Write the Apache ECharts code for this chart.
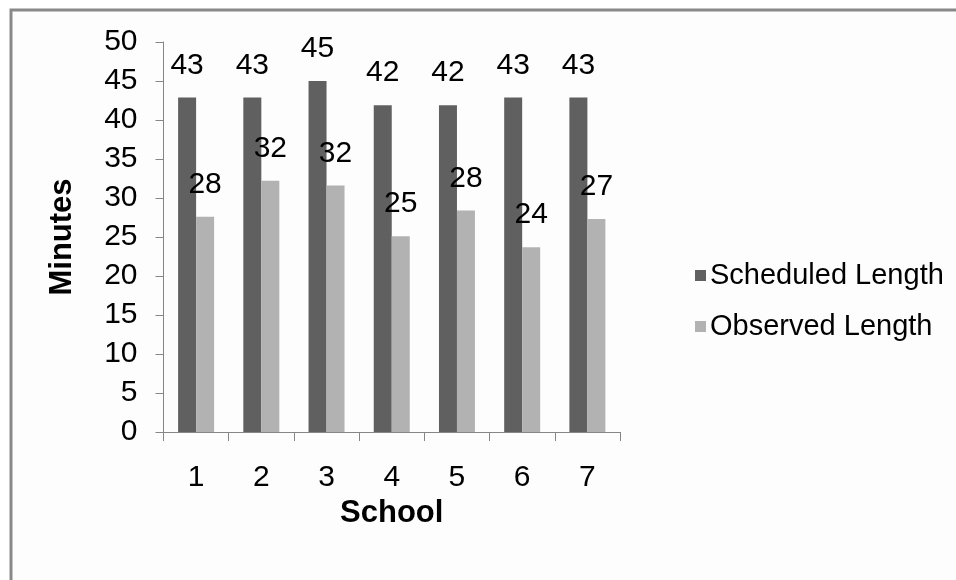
<!DOCTYPE html>
<html>
<head>
<meta charset="utf-8">
<script src="https://cdn.jsdelivr.net/npm/echarts@6/dist/echarts.min.js"></script>
<style>
  html, body { margin: 0; padding: 0; background: #ffffff; }
  #chart { width: 956px; height: 580px; }
</style>
</head>
<body>
<div id="chart"></div>
<script>
// Lesson length per school, in minutes
var schools = ['1', '2', '3', '4', '5', '6', '7'];
var scheduledLength = [42.9, 42.9, 45.0, 41.9, 41.9, 42.9, 42.9];
var observedLength = [27.6, 32.2, 31.6, 25.1, 28.4, 23.7, 27.3];
var seriesNames = ['Scheduled Length', 'Observed Length'];

var FONT = '"Liberation Sans", Arial, sans-serif';
var AXIS_GREY = '#868686';
var TEXT_SIZE = 30;
var TITLE_SIZE = 31;

var chart = echarts.init(document.getElementById('chart'), null, { renderer: 'canvas' });

function valueLabel() {
  return {
    show: true,
    position: 'top',
    distance: 17,
    color: '#000',
    fontFamily: FONT,
    fontSize: TEXT_SIZE,
    formatter: function (p) { return Math.round(p.value); }
  };
}

chart.setOption({
  backgroundColor: '#ffffff',
  animation: false,
  graphic: [{
    type: 'rect',
    shape: { x: 11, y: 10, width: 1000, height: 700 },
    style: { fill: '#fdfdfd', stroke: '#898989', lineWidth: 3 },
    z: -10
  }],
  grid: { left: 163.5, right: 336, top: 42, bottom: 148 },
  legend: {
    orient: 'vertical',
    left: 690,
    top: 256,
    itemWidth: 11,
    itemHeight: 11,
    itemGap: 22,
    icon: 'rect',
    textStyle: { fontFamily: FONT, fontSize: 29, color: '#000', padding: [0, 0, 0, -1] },
    data: seriesNames
  },
  xAxis: {
    type: 'category',
    data: schools,
    name: 'School',
    nameLocation: 'middle',
    nameGap: 60,
    nameTextStyle: { fontFamily: FONT, fontSize: TITLE_SIZE, fontWeight: 'bold', color: '#000' },
    axisLine: { lineStyle: { color: AXIS_GREY, width: 1 } },
    axisTick: { show: true, length: 9, inside: false, lineStyle: { color: AXIS_GREY } },
    axisLabel: { fontFamily: FONT, fontSize: TEXT_SIZE, color: '#000', margin: 31 },
    splitLine: { show: false }
  },
  yAxis: {
    type: 'value',
    min: 0,
    max: 50,
    interval: 5,
    name: 'Minutes',
    nameLocation: 'middle',
    nameGap: 86,
    nameRotate: 90,
    nameTextStyle: { fontFamily: FONT, fontSize: TITLE_SIZE, fontWeight: 'bold', color: '#000' },
    axisLine: { show: true, lineStyle: { color: AXIS_GREY, width: 1 } },
    axisTick: { show: true, length: 8, lineStyle: { color: AXIS_GREY } },
    axisLabel: { fontFamily: FONT, fontSize: TEXT_SIZE, color: '#000', margin: 26 },
    splitLine: { show: false }
  },
  series: [
    {
      name: seriesNames[0],
      type: 'bar',
      data: scheduledLength,
      barWidth: 18,
      barGap: '0%',
      itemStyle: { color: '#606060' },
      label: valueLabel()
    },
    {
      name: seriesNames[1],
      type: 'bar',
      data: observedLength,
      barWidth: 18,
      barGap: '0%',
      itemStyle: { color: '#b2b2b2' },
      label: valueLabel()
    }
  ]
});
</script>
</body>
</html>
